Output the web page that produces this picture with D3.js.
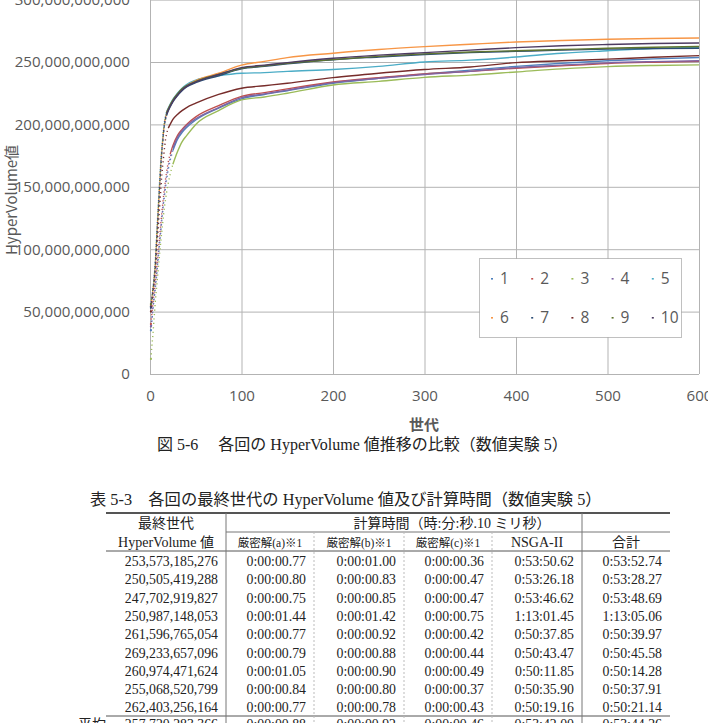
<!DOCTYPE html>
<html>
<head>
<meta charset="utf-8">
<script src="https://cdn.jsdelivr.net/npm/d3@7"></script>
<style>
  body { margin: 0; background: #fff; }
  svg { display: block; }
  .axis text { font-family: "Open Sans", "Noto Sans CJK JP", sans-serif; font-size: 15.1px; fill: #595959; }
  .axis line { stroke: #b3b3b3; }
  .axis .domain { display: none; }
  .title { font-family: "Noto Sans CJK JP", "Open Sans", sans-serif; font-size: 15px; fill: #595959; }
  .serif { font-family: "Liberation Serif", "Noto Sans CJK JP", serif; fill: #222; }
</style>
</head>
<body>
<script>
var gens = [1,2,3,4,5,6,7,8,9,10,11,12,13,14,15,16,17,18,20,22,25,30,35,40,50,75,100,125,150,200,250,300,350,400,450,500,550,600];

// HyperVolume per run, in billions
var run1  = [35,42,50,57,63,70,77,85,93,100,108,116,124,131,138,144,150,155,164,171,179,188,193.5,197.5,203.5,213,220.5,224,227,233,237,240.5,243.5,246.5,249,251,252.5,253.6];
var run2  = [40,48,55,62,68,75,82,90,98,106,114,122,130,137,144,150,156,161,170,176,183,191,196,200,206,215,222.5,225.5,228.5,234,237.5,240.5,242.5,245,247,248.8,249.8,250.5];
var run3  = [12,22,30,40,50,60,68,76,84,92,100,108,115,122,129,135,140,145,153,160,168,178,186,191,200,211,219.6,222,225,231.6,234.5,237.7,239.5,242,244.5,246.3,247.2,247.7];
var run4  = [38,45,52,59,66,73,80,88,96,104,111,119,127,134,141,147,153,158,167,173,181,189.5,195,199,204.5,213.5,221.5,224.5,227.5,233.5,237,240,242.5,245.5,247.5,249.3,250.3,251.0];
var run5  = [54,60,67,74,82,93,107,121,134,148,160,172,182,190,197,203,207,210,213,216,220,225,229,232,235.5,239,241,241.5,242.5,244,246.5,250,251.5,254,257,259,260.8,261.6];
var run6  = [55,60,66,72,80,90,104,118,131,145,158,170,180,188,196,202,206,209,212,215,219,224,228,231,235,241,247.5,250.5,253.5,257,260,262.3,264.2,266,267.2,268.2,268.8,269.2];
var run7  = [53,59,65,71,79,88,101,115,128,142,155,167,178,186,194,200,204,207,211,214,218,223,227,230,233.5,239,244.5,246.5,248.5,251.8,254,256,257.5,258.5,259.5,260.3,260.7,261.0];
var run8  = [50,57,64,70,77,85,95,106,117,128,139,150,160,168,175,182,188,192,197,200,204,208,211,213.5,217,224,229,231,233,237.5,241,244,246,249.5,251,252.3,253.8,255.1];
var run9  = [56,61,67,73,81,91,105,119,132,146,159,171,181,189,197,202,206,209,212.5,215.5,219.5,224.5,228.5,231,234.5,240,245,247,249,252,254.5,256.5,258,259,260,261,261.8,262.4];
var run10 = [54,60,66,72,80,90,103,117,130,144,157,169,179,187,195,201,205,208,211.5,214.5,218.5,223.5,227.5,230.5,234,240,245.5,247.5,249.5,253,255.5,257.5,259.5,261.5,263,264,264.8,265.2];

var runNames = ["1","2","3","4","5","6","7","8","9","10"];
var runColors = ["#4f81bd","#c0504d","#9bbb59","#8064a2","#4bacc6","#f79646","#2c4d75","#772c2a","#5f7530","#4d3b62"];
var yTicks = [0,50,100,150,200,250,300];
var xTicks = [0,100,200,300,400,500,600];

// table
var colHeads = ["HyperVolume 値","厳密解(a)※1","厳密解(b)※1","厳密解(c)※1","NSGA-II","合計"];
var hvFinal = [253573185276,250505419288,247702919827,250987148053,261596765054,269233657096,260974471624,255068520799,262403256164];
var timeA = ["0:00:00.77","0:00:00.80","0:00:00.75","0:00:01.44","0:00:00.77","0:00:00.79","0:00:01.05","0:00:00.84","0:00:00.77"];
var timeB = ["0:00:01.00","0:00:00.83","0:00:00.85","0:00:01.42","0:00:00.92","0:00:00.88","0:00:00.90","0:00:00.80","0:00:00.78"];
var timeC = ["0:00:00.36","0:00:00.47","0:00:00.47","0:00:00.75","0:00:00.42","0:00:00.44","0:00:00.49","0:00:00.37","0:00:00.43"];
var timeNsga = ["0:53:50.62","0:53:26.18","0:53:46.62","1:13:01.45","0:50:37.85","0:50:43.47","0:50:11.85","0:50:35.90","0:50:19.16"];
var timeTotal = ["0:53:52.74","0:53:28.27","0:53:48.69","1:13:05.06","0:50:39.97","0:50:45.58","0:50:14.28","0:50:37.91","0:50:21.14"];
var avgRow = ["257,720,283,366","0:00:00.88","0:00:00.92","0:00:00.46","0:53:42.00","0:53:44.26"];

var runs = [run1,run2,run3,run4,run5,run6,run7,run8,run9,run10];

var svg = d3.select("body").append("svg")
    .attr("width", 708)
    .attr("height", 723);

var x = d3.scaleLinear().domain([0, 600]).range([150, 699]);
var y = d3.scaleLinear().domain([0, 300]).range([374, -0.4]);
var fmt = d3.format(",");

/*
  Grid + axes
*/
svg.append("g")
    .attr("class", "axis")
    .attr("transform", "translate(150,0)")
    .call(d3.axisLeft(y).tickValues(yTicks).tickSize(-549).tickPadding(20)
      .tickFormat(function(d) { return fmt(d * 1e9); }));

svg.append("g")
    .attr("class", "axis")
    .attr("transform", "translate(0,374)")
    .call(d3.axisBottom(x).tickValues(xTicks).tickSize(-374.4).tickPadding(16));

svg.append("text")
    .attr("class", "title")
    .attr("transform", "translate(17,200) rotate(-90)")
    .attr("text-anchor", "middle")
    .text("HyperVolume値");

svg.append("text")
    .attr("class", "title")
    .attr("x", 424)
    .attr("y", 430)
    .attr("text-anchor", "middle")
    .style("font-weight", "bold")
    .text("世代");

/*
  Series: steep early part drawn dotted (one marker per generation look),
  the rest as a continuous line
*/
var line = d3.line()
    .x(function(d) { return x(d[0]); })
    .y(function(d) { return y(d[1]); })
    .curve(d3.curveMonotoneX);

runs.forEach(function(vals, i) {
  var pts = gens.map(function(g, j) { return [g, vals[j]]; });
  var k = 0;
  while (k < pts.length - 1) {
    var dx = x(pts[k + 1][0]) - x(pts[k][0]);
    var dy = y(pts[k][1]) - y(pts[k + 1][1]);
    if (dy / dx < 3.3) break;
    k++;
  }
  var g = svg.append("g");
  g.append("path")
      .attr("d", line(pts.slice(0, k + 1)))
      .attr("fill", "none")
      .attr("stroke", runColors[i])
      .attr("stroke-width", 1.4)
      .attr("stroke-dasharray", "1.2,3.2");
  g.append("path")
      .attr("d", line(pts.slice(k)))
      .attr("fill", "none")
      .attr("stroke", runColors[i])
      .attr("stroke-width", 1.4);
  g.append("circle")
      .attr("cx", x(pts[0][0]))
      .attr("cy", y(pts[0][1]))
      .attr("r", 1.1)
      .attr("fill", runColors[i]);
});

/*
  Legend
*/
var leg = svg.append("g");
leg.append("rect")
    .attr("x", 479.5).attr("y", 258.5)
    .attr("width", 202).attr("height", 79)
    .attr("fill", "#fff")
    .attr("stroke", "#808080")
    .attr("stroke-dasharray", "1,1");
runNames.forEach(function(n, i) {
  var lx = 491 + (i % 5) * 40.2,
      ly = i < 5 ? 278 : 317;
  leg.append("rect")
      .attr("x", lx).attr("y", ly)
      .attr("width", 2).attr("height", 1.6)
      .attr("fill", runColors[i]);
  leg.append("text")
      .attr("class", "title")
      .attr("x", lx + 9)
      .attr("y", ly + 5.5)
      .style("font-family", "'Open Sans', sans-serif")
      .style("font-size", "15.5px")
      .text(n);
});

/*
  Figure caption and table
*/
svg.append("text")
    .attr("class", "serif")
    .attr("x", 157)
    .attr("y", 450)
    .style("font-size", "16px")
    .text("図 5-6　 各回の HyperVolume 値推移の比較（数値実験 5）");

svg.append("text")
    .attr("class", "serif")
    .attr("x", 90)
    .attr("y", 505)
    .style("font-size", "16.3px")
    .text("表 5-3　各回の最終世代の HyperVolume 値及び計算時間（数値実験 5）");

var cols = [106, 226, 314, 404, 492, 582, 670];
var tbl = svg.append("g");

tbl.append("line").attr("x1", 106).attr("x2", 670).attr("y1", 513).attr("y2", 513)
    .attr("stroke", "#555").attr("stroke-width", 2);
tbl.append("line").attr("x1", 226).attr("x2", 670).attr("y1", 532).attr("y2", 532)
    .attr("stroke", "#777");
tbl.append("line").attr("x1", 106).attr("x2", 670).attr("y1", 551).attr("y2", 551)
    .attr("stroke", "#555");
tbl.append("line").attr("x1", 106).attr("x2", 670).attr("y1", 716).attr("y2", 716)
    .attr("stroke", "#555");

[226, 582].forEach(function(cx) {
  tbl.append("line").attr("x1", cx).attr("x2", cx).attr("y1", 513).attr("y2", 723)
      .attr("stroke", "#777");
});
[314, 404, 492].forEach(function(cx) {
  tbl.append("line").attr("x1", cx).attr("x2", cx).attr("y1", 532).attr("y2", 723)
      .attr("stroke", "#bbb").attr("stroke-dasharray", "2,2");
});

tbl.append("text").attr("class", "serif")
    .attr("x", 166).attr("y", 528).attr("text-anchor", "middle")
    .style("font-size", "14px").text("最終世代");
tbl.append("text").attr("class", "serif")
    .attr("x", 452).attr("y", 528).attr("text-anchor", "middle")
    .style("font-size", "14px").text("計算時間（時:分:秒.10 ミリ秒）");

colHeads.forEach(function(h, i) {
  tbl.append("text").attr("class", "serif")
      .attr("x", (cols[i] + cols[i + 1]) / 2).attr("y", 547)
      .attr("text-anchor", "middle")
      .style("font-size", (i >= 1 && i <= 3) ? "11.5px" : "14px")
      .text(h);
});

var rows = hvFinal.map(function(v, i) {
  return [fmt(v), timeA[i], timeB[i], timeC[i], timeNsga[i], timeTotal[i]];
});
rows.push(avgRow);

rows.forEach(function(r, ri) {
  var cy = ri < 9 ? 561 + ri * 18.3 : 724;
  r.forEach(function(t, ci) {
    tbl.append("text").attr("class", "serif")
        .attr("x", cols[ci + 1] - 8).attr("y", cy + 5)
        .attr("text-anchor", "end")
        .style("font-size", "13.8px")
        .text(t);
  });
});
tbl.append("text").attr("class", "serif")
    .attr("x", 78).attr("y", 729)
    .style("font-size", "14px")
    .text("平均");
</script>
</body>
</html>
